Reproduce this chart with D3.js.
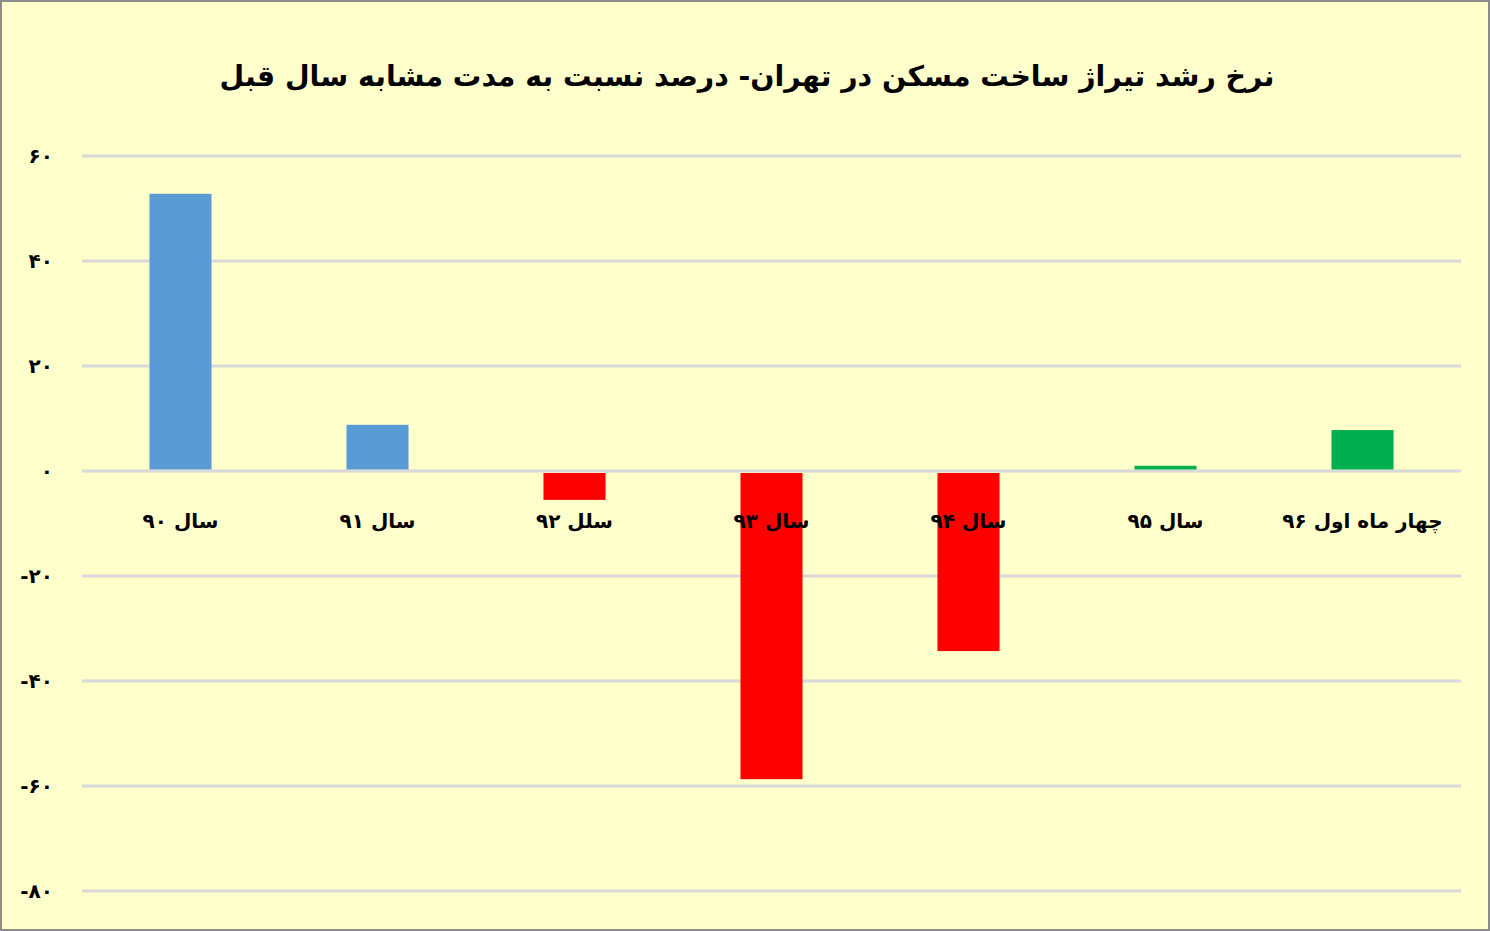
<!DOCTYPE html>
<html><head><meta charset="utf-8">
<script src="https://cdn.jsdelivr.net/npm/d3@7/dist/d3.min.js"></script>
<style>
html,body{margin:0;padding:0;background:#fff;}
svg{display:block;}
</style></head>
<body>
<svg id="chart" width="1490" height="931"></svg>
<script>
const title = "نرخ رشد تیراژ ساخت مسکن در تهران- درصد نسبت به مدت مشابه سال قبل";
const categories = ["سال ۹۰","سال ۹۱","سلل ۹۲","سال ۹۳","سال ۹۴","سال ۹۵","چهار ماه اول ۹۶"];
const values = [52.8, 8.8, -5.5, -58.7, -34.3, 1.0, 7.8];
const barColors = ["#5B9BD5","#5B9BD5","#FF0000","#FF0000","#FF0000","#00B050","#00B050"];
const tickValues = [60,40,20,0,-20,-40,-60,-80];
const tickLabels = ["۶۰","۴۰","۲۰","۰","-۲۰","-۴۰","-۶۰","-۸۰"];

const svg = d3.select("#chart");
const W = 1490, H = 931;
const font = "DejaVu Sans, sans-serif";

svg.append("rect").attr("x",1).attr("y",1).attr("width",W-2).attr("height",H-2)
  .attr("fill","#FFFFCC").attr("stroke","#8C8C8C").attr("stroke-width",2);

const plot = {left:82, right:1461, top:156, bottom:891};
const y = d3.scaleLinear().domain([-80,60]).range([plot.bottom, plot.top]);
const x = d3.scaleBand().domain(categories).range([plot.left, plot.right]).paddingInner(0.685).paddingOuter(0.3425);

// gridlines
svg.append("g").selectAll("line").data(tickValues).join("line")
  .attr("x1",plot.left).attr("x2",plot.right)
  .attr("y1",d=>y(d)).attr("y2",d=>y(d))
  .attr("stroke","#D9D9D9").attr("stroke-width",3);

// y tick labels
svg.append("g").selectAll("text").data(tickValues).join("text")
  .attr("x",53).attr("y",d=>y(d)+7)
  .attr("text-anchor","end").attr("direction","ltr")
  .attr("font-family",font).attr("font-weight","bold").attr("font-size",20)
  .attr("fill","#000")
  .text((d,i)=>tickLabels[i]);

// bars
const data = categories.map((c,i)=>({c, v:values[i], col:barColors[i]}));
svg.append("g").selectAll("rect").data(data).join("rect")
  .attr("x",d=>x(d.c)).attr("width",x.bandwidth())
  .attr("y",d=> d.v>=0 ? y(d.v) : y(0)+2)
  .attr("height",d=> d.v>=0 ? y(0)-1.5-y(d.v) : y(d.v)-y(0)-2)
  .attr("fill",d=>d.col);

// category labels
svg.append("g").selectAll("text").data(categories).join("text")
  .attr("x",d=>x(d)+x.bandwidth()/2).attr("y",528)
  .attr("text-anchor","middle").attr("direction","rtl")
  .attr("font-family",font).attr("font-weight","bold").attr("font-size",20)
  .attr("fill","#000")
  .text(d=>d);

// title, sized to fit the reference width
const t = svg.append("text").attr("x",747).attr("y",86)
  .attr("text-anchor","middle").attr("direction","rtl")
  .attr("font-family",font).attr("font-weight","bold").attr("font-size",36)
  .attr("fill","#000")
  .text(title);
const w = t.node().getComputedTextLength();
if (w > 0) t.attr("font-size", Math.min(40, 36 * 1055 / w));
</script>
</body></html>
